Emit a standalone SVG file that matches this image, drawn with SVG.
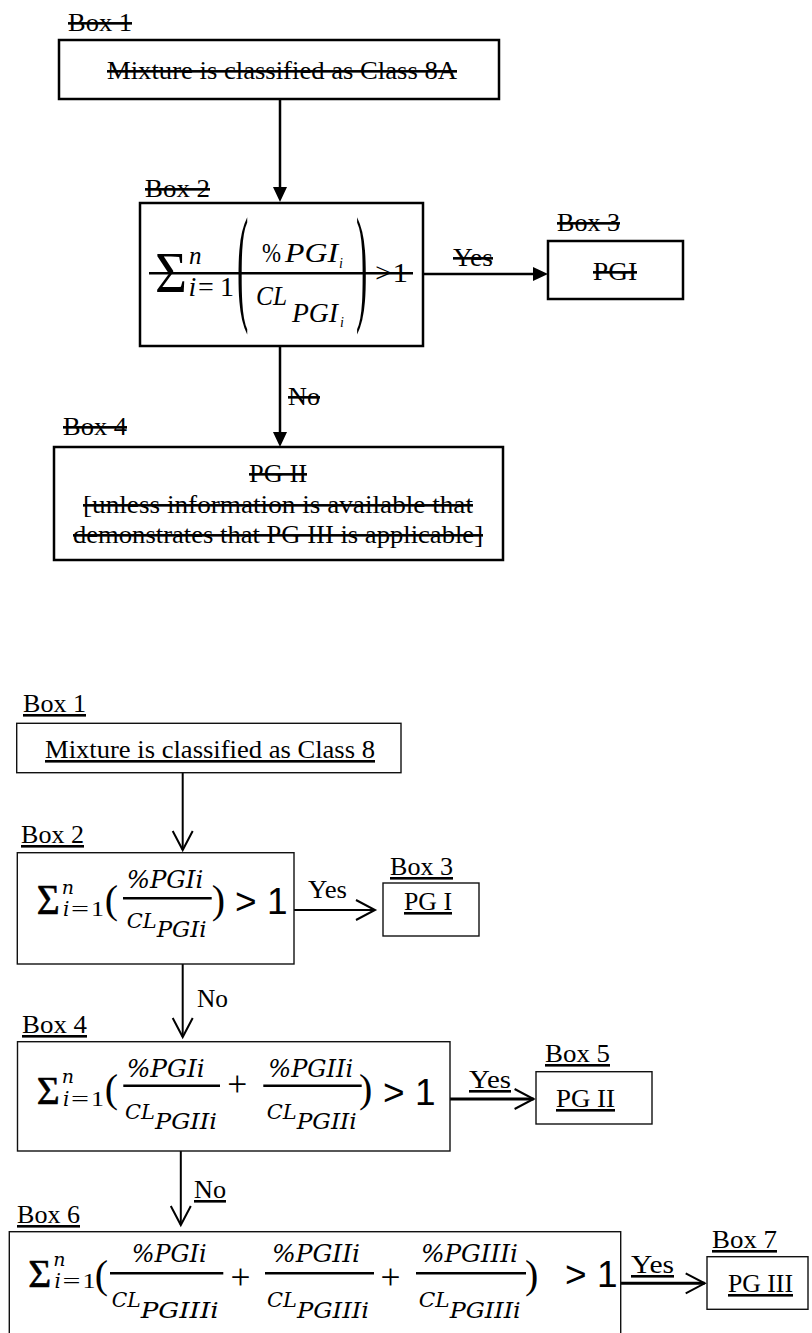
<svg xmlns="http://www.w3.org/2000/svg" width="812" height="1333" viewBox="0 0 812 1333">
<style>
.bg{fill:#fff}
.box{fill:#fff;stroke:#000;stroke-width:2.5}
.box2{fill:#fff;stroke:#111;stroke-width:1.4}
.t{font-family:"Liberation Serif","Times New Roman",serif;font-size:26px;fill:#000}
.s{text-decoration:line-through}
.u{text-decoration:underline}
.m{font-family:"Liberation Serif","Times New Roman",serif;fill:#000}
.mi{font-family:"Liberation Serif","Times New Roman",serif;font-style:italic;fill:#000}
.dv{font-family:"DejaVu Serif","Liberation Serif",serif;font-style:italic;fill:#000}
.ms{font-family:"Liberation Sans",Arial,sans-serif;fill:#000}
.sig{stroke:#000;stroke-width:0.6}
.conn{stroke:#000;stroke-width:2.5;fill:none}
.conn2{stroke:#000;stroke-width:2;fill:none}
.bar{stroke:#000;stroke-width:2.5}
</style>
<defs>
<marker id="fill" viewBox="0 0 15 14" refX="7" refY="7" markerWidth="15" markerHeight="14" markerUnits="userSpaceOnUse" orient="auto">
<path d="M0,0 L15,7 L0,14 Z" fill="#000"/>
</marker>
<marker id="open" viewBox="-2 -2 24 24" refX="19" refY="10" markerWidth="24" markerHeight="24" markerUnits="userSpaceOnUse" orient="auto" overflow="visible">
<path d="M0,0 L19,10 L0,20" fill="none" stroke="#000" stroke-width="2"/>
</marker>
</defs>
<rect class="bg" x="0" y="0" width="812" height="1333"/>

<g id="connectors">
<line class="conn" x1="280" y1="99" x2="280" y2="194" marker-end="url(#fill)"/>
<line class="conn" x1="423" y1="274" x2="540" y2="274" marker-end="url(#fill)"/>
<line class="conn" x1="280" y1="346" x2="280" y2="439" marker-end="url(#fill)"/>
<line class="conn2" x1="182.7" y1="773" x2="182.7" y2="850" marker-end="url(#open)"/>
<line class="conn2" x1="294" y1="910" x2="375" y2="910" marker-end="url(#open)"/>
<line class="conn2" x1="182.7" y1="964" x2="182.7" y2="1037" marker-end="url(#open)"/>
<line class="conn2" x1="450" y1="1099" x2="533.6" y2="1099" style="stroke-width:3" marker-end="url(#open)"/>
<line class="conn2" x1="180.8" y1="1151" x2="180.8" y2="1225" marker-end="url(#open)"/>
<line class="conn2" x1="620.7" y1="1283.3" x2="704.7" y2="1283.3" style="stroke-width:3" marker-end="url(#open)"/>
<text class="t s" x="453" y="266" textLength="40" lengthAdjust="spacingAndGlyphs">Yes</text>
<text class="t s" x="288" y="405" textLength="32" lengthAdjust="spacingAndGlyphs">No</text>
<text class="t" x="308" y="898" textLength="39" lengthAdjust="spacingAndGlyphs">Yes</text>
<text class="t" x="197" y="1007" textLength="31" lengthAdjust="spacingAndGlyphs">No</text>
<text class="t u" x="469" y="1088" textLength="42" lengthAdjust="spacingAndGlyphs">Yes</text>
<text class="t u" x="194" y="1198" textLength="32" lengthAdjust="spacingAndGlyphs">No</text>
<text class="t u" x="631" y="1273" textLength="43" lengthAdjust="spacingAndGlyphs">Yes</text>
</g>

<!-- Top (struck-through) diagram -->
<g id="top-box1">
<text class="t s" x="68" y="31" textLength="64" lengthAdjust="spacingAndGlyphs">Box 1</text>
<rect class="box" x="59" y="40" width="440" height="59"/>
<text class="t s" x="107" y="79" textLength="350" lengthAdjust="spacingAndGlyphs">Mixture is classified as Class 8A</text>
</g>

<g id="top-box2">
<text class="t s" x="145" y="197" textLength="65" lengthAdjust="spacingAndGlyphs">Box 2</text>
<rect class="box" x="140" y="203" width="283" height="143"/>
<text class="m" x="155" y="292" font-size="56" textLength="32" lengthAdjust="spacingAndGlyphs">Σ</text>
<text class="mi" x="189" y="264" font-size="25">n</text>
<text class="m" y="296" font-size="28"><tspan class="mi" x="188.5">i</tspan><tspan x="198">=</tspan><tspan x="220">1</tspan></text>
<text class="m" font-size="34" transform="translate(237,307) scale(1,3.77)">(</text>
<text class="m" x="262" y="262" font-size="28" textLength="19" lengthAdjust="spacingAndGlyphs">%</text>
<text class="mi" x="285" y="262" font-size="28" textLength="53" lengthAdjust="spacingAndGlyphs">PGI</text>
<text class="mi" x="339" y="268" font-size="14">i</text>
<text class="mi" x="256" y="305" font-size="28" textLength="31" lengthAdjust="spacingAndGlyphs">CL</text>
<text class="mi" x="292" y="322" font-size="28" textLength="46" lengthAdjust="spacingAndGlyphs">PGI</text>
<text class="mi" x="340" y="327" font-size="14">i</text>
<text class="m" font-size="34" transform="translate(356,307) scale(1,3.77)">)</text>
<text class="m" x="375" y="282" font-size="28" textLength="33" lengthAdjust="spacingAndGlyphs">&gt;1</text>
<line class="bar" x1="149" y1="273.3" x2="413" y2="273.3"/>
</g>

<g id="top-box3">
<text class="t s" x="557" y="231" textLength="63" lengthAdjust="spacingAndGlyphs">Box 3</text>
<rect class="box" x="548" y="241" width="135" height="58"/>
<text class="t s" x="593" y="280" textLength="44" lengthAdjust="spacingAndGlyphs">PGI</text>
</g>

<g id="top-box4">
<text class="t s" x="63" y="435" textLength="64" lengthAdjust="spacingAndGlyphs">Box 4</text>
<rect class="box" x="54" y="447" width="449" height="113"/>
<text class="t s" x="249" y="482" textLength="58" lengthAdjust="spacingAndGlyphs">PG II</text>
<text class="t s" x="83" y="513" textLength="390" lengthAdjust="spacingAndGlyphs">[unless information is available that</text>
<text class="t s" x="73" y="543" textLength="410" lengthAdjust="spacingAndGlyphs">demonstrates that PG III is applicable]</text>
</g>

<!-- Bottom diagram -->
<g id="box1">
<text class="t u" x="23" y="712" textLength="63" lengthAdjust="spacingAndGlyphs">Box 1</text>
<rect class="box2" x="16.7" y="723.3" width="384.3" height="49.4"/>
<text class="t u" x="45" y="758" textLength="330" lengthAdjust="spacingAndGlyphs">Mixture is classified as Class 8</text>
</g>

<g id="box2">
<text class="t u" x="21" y="843" textLength="63" lengthAdjust="spacingAndGlyphs">Box 2</text>
<rect class="box2" x="17.3" y="852.7" width="276.7" height="111.3"/>
<text class="m sig" x="36.7" y="914.3" font-size="42" textLength="23" lengthAdjust="spacingAndGlyphs">Σ</text>
<text class="dv" x="61.7" y="893.5" font-size="19">n</text>
<text class="dv" x="63" y="916" font-size="20">i</text>
<text class="m" x="71" y="916" font-size="20" textLength="18" lengthAdjust="spacingAndGlyphs">=</text>
<text class="m" x="91" y="916" font-size="21" textLength="13" lengthAdjust="spacingAndGlyphs">1</text>
<text class="m" x="104.8" y="913" font-size="40">(</text>
<text class="dv" x="126.7" y="887.7" font-size="24" textLength="76.6" lengthAdjust="spacingAndGlyphs">%PGIi</text>
<line class="bar" x1="123" y1="898.3" x2="211.7" y2="898.3"/>
<text class="dv" x="126.7" y="928" font-size="20" textLength="30" lengthAdjust="spacingAndGlyphs">CL</text>
<text class="dv" x="156.7" y="937" font-size="22" textLength="50" lengthAdjust="spacingAndGlyphs">PGIi</text>
<text class="m" x="211.8" y="913" font-size="40">)</text>
<text class="ms" x="235" y="914" font-size="37">&gt; 1</text>
</g>

<g id="box3">
<text class="t u" x="390" y="875" textLength="63" lengthAdjust="spacingAndGlyphs">Box 3</text>
<rect class="box2" x="383" y="883" width="96" height="53"/>
<text class="t u" x="404" y="910" textLength="48" lengthAdjust="spacingAndGlyphs">PG I</text>
</g>

<g id="box4">
<text class="t u" x="22" y="1033" textLength="65" lengthAdjust="spacingAndGlyphs">Box 4</text>
<rect class="box2" x="17.5" y="1041.7" width="432.5" height="109.3"/>
<text class="m sig" x="36.7" y="1104" font-size="41" textLength="23" lengthAdjust="spacingAndGlyphs">Σ</text>
<text class="dv" x="61.7" y="1083" font-size="19">n</text>
<text class="dv" x="63" y="1106" font-size="20">i</text>
<text class="m" x="71" y="1106" font-size="20" textLength="18" lengthAdjust="spacingAndGlyphs">=</text>
<text class="m" x="91" y="1106" font-size="21" textLength="13" lengthAdjust="spacingAndGlyphs">1</text>
<text class="m" x="104.8" y="1102" font-size="40">(</text>
<text class="dv" x="126.7" y="1076.7" font-size="24" textLength="78" lengthAdjust="spacingAndGlyphs">%PGIi</text>
<line class="bar" x1="123.3" y1="1085.7" x2="220" y2="1085.7"/>
<text class="dv" x="125" y="1119" font-size="20" textLength="30" lengthAdjust="spacingAndGlyphs">CL</text>
<text class="dv" x="155" y="1129" font-size="22" textLength="62" lengthAdjust="spacingAndGlyphs">PGIIi</text>
<text class="m" x="227.2" y="1096" font-size="36" textLength="20" lengthAdjust="spacingAndGlyphs">+</text>
<text class="dv" x="268.3" y="1076.7" font-size="24" textLength="85" lengthAdjust="spacingAndGlyphs">%PGIIi</text>
<line class="bar" x1="263.3" y1="1085.7" x2="361.7" y2="1085.7"/>
<text class="dv" x="266.7" y="1119" font-size="20" textLength="30" lengthAdjust="spacingAndGlyphs">CL</text>
<text class="dv" x="296.7" y="1129" font-size="22" textLength="60" lengthAdjust="spacingAndGlyphs">PGIIi</text>
<text class="m" x="359" y="1102" font-size="40">)</text>
<text class="ms" x="383" y="1105" font-size="37">&gt; 1</text>
</g>

<g id="box5">
<text class="t u" x="545" y="1062" textLength="65" lengthAdjust="spacingAndGlyphs">Box 5</text>
<rect class="box2" x="536" y="1071.7" width="116" height="52.3"/>
<text class="t u" x="556" y="1107" textLength="59" lengthAdjust="spacingAndGlyphs">PG II</text>
</g>

<g id="box6">
<text class="t u" x="17" y="1223" textLength="63" lengthAdjust="spacingAndGlyphs">Box 6</text>
<rect class="box2" x="9.3" y="1231.7" width="611.4" height="120"/>
<text class="m sig" x="28.3" y="1286.7" font-size="41" textLength="23" lengthAdjust="spacingAndGlyphs">Σ</text>
<text class="dv" x="53.3" y="1265.5" font-size="19">n</text>
<text class="dv" x="54.5" y="1288" font-size="20">i</text>
<text class="m" x="62.5" y="1288" font-size="20" textLength="18" lengthAdjust="spacingAndGlyphs">=</text>
<text class="m" x="82.5" y="1288" font-size="21" textLength="13" lengthAdjust="spacingAndGlyphs">1</text>
<text class="m" x="94.8" y="1288" font-size="40">(</text>
<text class="dv" x="131.7" y="1261.7" font-size="24" textLength="75" lengthAdjust="spacingAndGlyphs">%PGIi</text>
<line class="bar" x1="110" y1="1273.3" x2="223.3" y2="1273.3"/>
<text class="dv" x="111.7" y="1307" font-size="20" textLength="29" lengthAdjust="spacingAndGlyphs">CL</text>
<text class="dv" x="140.7" y="1318" font-size="22" textLength="78" lengthAdjust="spacingAndGlyphs">PGIIIi</text>
<text class="m" x="230.6" y="1289" font-size="36" textLength="20" lengthAdjust="spacingAndGlyphs">+</text>
<text class="dv" x="272" y="1261.7" font-size="24" textLength="88" lengthAdjust="spacingAndGlyphs">%PGIIi</text>
<line class="bar" x1="265" y1="1273.3" x2="374" y2="1273.3"/>
<text class="dv" x="267" y="1307" font-size="20" textLength="30" lengthAdjust="spacingAndGlyphs">CL</text>
<text class="dv" x="297" y="1318" font-size="22" textLength="72" lengthAdjust="spacingAndGlyphs">PGIIIi</text>
<text class="m" x="380.6" y="1289" font-size="36" textLength="20" lengthAdjust="spacingAndGlyphs">+</text>
<text class="dv" x="421" y="1261.7" font-size="24" textLength="97" lengthAdjust="spacingAndGlyphs">%PGIIIi</text>
<line class="bar" x1="416" y1="1273.3" x2="526" y2="1273.3"/>
<text class="dv" x="418.7" y="1307" font-size="20" textLength="31" lengthAdjust="spacingAndGlyphs">CL</text>
<text class="dv" x="449.7" y="1318" font-size="22" textLength="71" lengthAdjust="spacingAndGlyphs">PGIIIi</text>
<text class="m" x="525" y="1288" font-size="40">)</text>
<text class="ms" x="565" y="1287" font-size="37">&gt; 1</text>
</g>

<g id="box7">
<text class="t u" x="712" y="1248" textLength="65" lengthAdjust="spacingAndGlyphs">Box 7</text>
<rect class="box2" x="707" y="1256.7" width="101" height="52.6"/>
<text class="t u" x="728" y="1292" textLength="65" lengthAdjust="spacingAndGlyphs">PG III</text>
</g>
</svg>
